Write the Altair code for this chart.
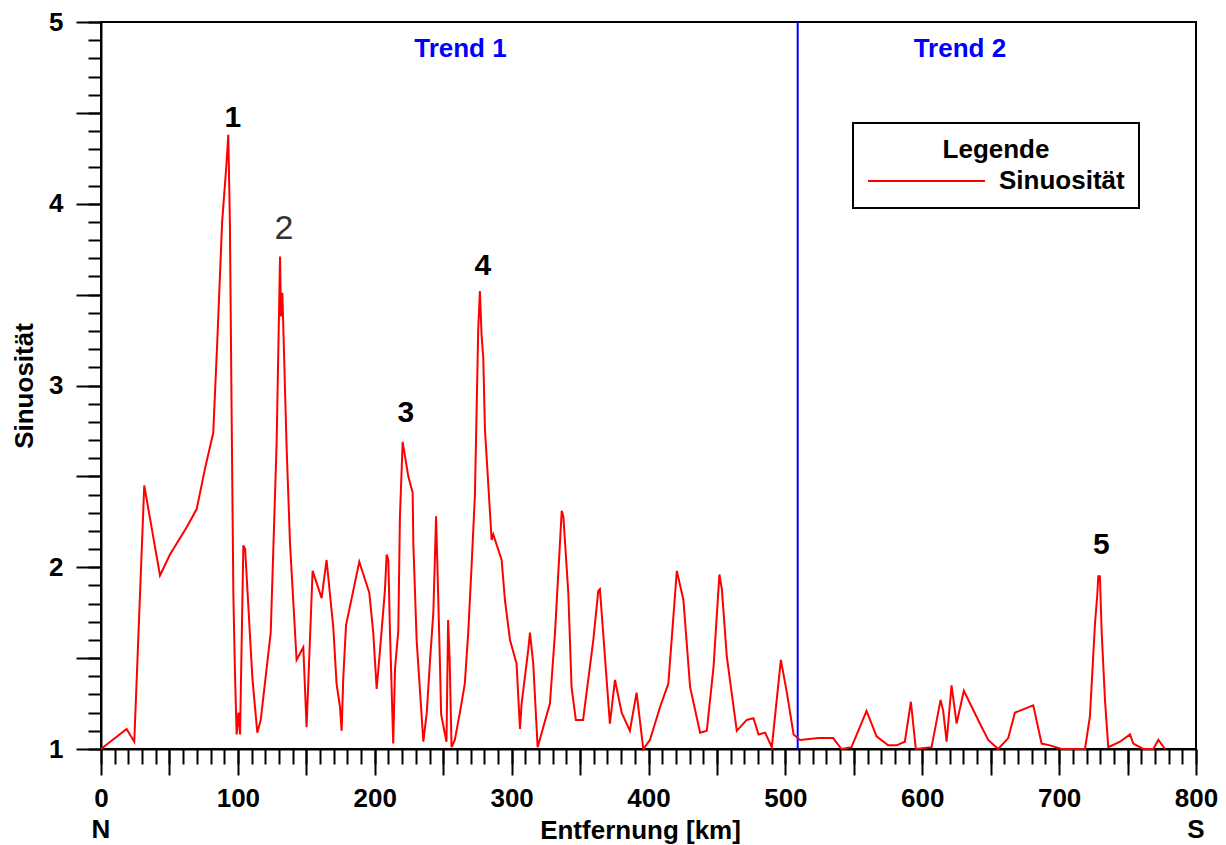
import altair as alt
import pandas as pd

# ---- data ----
km = [0, 18.7, 24.3, 31.6, 43.1, 50.4, 62.6, 69.9, 75.9, 82.0, 85.0, 88.5, 91.5, 93.0, 94.2, 95.4,
      96.7, 97.9, 99.1, 100.4, 101.6, 104.0, 105.3, 110.6, 114.2, 116.7, 124.0, 128.3, 130.8, 131.5,
      132.5, 135.6, 138.1, 142.9, 147.8, 150.2, 154.6, 161.2, 164.8, 167.3, 169.7, 172.1, 174.6,
      175.8, 177.0, 179.0, 188.7, 196.0, 198.9, 201.4, 203.8, 207.4, 208.7, 209.9, 211.1, 213.5,
      214.8, 217.2, 218.4, 220.4, 224.5, 227.7, 228.2, 230.6, 235.5, 238.0, 240.4, 242.8, 244.1,
      244.8, 245.8, 247.7, 248.5, 252.4, 253.6, 254.8, 256.1, 258.5, 262.2, 265.8, 268.3, 270.7,
      273.2, 275.6, 276.8, 278.1, 279.3, 280.5, 285.4, 286.6, 292.7, 295.1, 298.8, 303.6, 306.1,
      307.3, 312.2, 313.4, 315.8, 319.0, 323.1, 328.0, 331.7, 336.6, 337.8, 341.4, 343.8, 346.9,
      352.2, 359.7, 363.3, 364.5, 371.8, 375.5, 380.4, 386.4, 391.3, 396.2, 401.1, 408.4, 414.5,
      420.7, 425.5, 430.4, 437.7, 442.6, 447.5, 451.8, 453.6, 457.2, 464.5, 471.8, 476.7, 480.4,
      485.2, 490.1, 496.7, 501.1, 506.0, 510.8, 524.0, 534.9, 541.0, 548.3, 559.3, 566.6, 575.1,
      581.2, 587.3, 591.7, 595.3, 606.8, 613.4, 615.3, 617.8, 621.4, 625.1, 630.4, 642.1, 648.2,
      655.5, 662.8, 667.7, 681.1, 687.2, 693.3, 701.8, 718.9, 722.5, 726.2, 727.9, 728.6, 729.8,
      731.1, 733.5, 735.9, 744.5, 751.8, 754.2, 761.5, 768.8, 772.5, 777.4]
sinuosity = [1.00, 1.11, 1.04, 2.45, 1.955, 2.07, 2.22, 2.32, 2.54, 2.74, 3.25, 3.90, 4.20, 4.38, 3.88, 2.87,
             1.85, 1.41, 1.08, 1.20, 1.08, 2.12, 2.10, 1.39, 1.09, 1.16, 1.64, 2.68, 3.71, 3.38,
             3.51, 2.66, 2.13, 1.49, 1.56, 1.12, 1.98, 1.83, 2.04, 1.85, 1.67, 1.36, 1.23,
             1.10, 1.39, 1.68, 2.03, 1.86, 1.64, 1.33, 1.54, 1.87, 2.07, 2.04, 1.65, 1.03,
             1.44, 1.65, 2.28, 2.69, 2.50, 2.41, 2.13, 1.60, 1.04, 1.20, 1.49, 1.75, 2.09,
             2.28, 2.00, 1.45, 1.19, 1.04, 1.71, 1.47, 1.01, 1.05, 1.20, 1.36, 1.64, 2.00,
             2.40, 3.31, 3.52, 3.27, 3.15, 2.76, 2.15, 2.18, 2.04, 1.82, 1.60, 1.47, 1.11,
             1.25, 1.55, 1.64, 1.47, 1.01, 1.12, 1.25, 1.64, 2.31, 2.28, 1.86, 1.34, 1.16,
             1.16, 1.60, 1.87, 1.88, 1.14, 1.38, 1.20, 1.10, 1.31, 1.00, 1.05, 1.23, 1.36,
             1.98, 1.82, 1.34, 1.09, 1.10, 1.45, 1.96, 1.88, 1.51, 1.10, 1.16, 1.17, 1.08,
             1.09, 1.01, 1.49, 1.31, 1.08, 1.05, 1.06, 1.06, 1.00, 1.01, 1.21, 1.07, 1.02,
             1.02, 1.04, 1.26, 1.00, 1.01, 1.27, 1.21, 1.04, 1.35, 1.14, 1.32, 1.14, 1.05,
             1.00, 1.06, 1.20, 1.24, 1.03, 1.02, 1.00, 1.00, 1.18, 1.69, 1.85, 1.95, 1.95,
             1.64, 1.27, 1.01, 1.04, 1.08, 1.03, 1.00, 1.00, 1.05, 1.00]
series_name = "Sinuosität"

peak_labels = ["1", "3", "4", "5"]
peak_km = [96.4, 222.8, 279.0, 730.8]
peak_val = [4.47, 2.85, 3.66, 2.12]

thin_labels = ["2"]
thin_km = [133.7]
thin_val = [3.86]

trend_labels = ["Trend 1", "Trend 2"]
trend_km = [262.6, 627.5]
trend_val = [4.85, 4.85]

boundary_km = [509]

end_labels = ["N", "S"]
end_km = [0, 800]

x_major = list(range(0, 801, 50))
x_minor = list(range(0, 801, 10))
y_major = [1, 1.5, 2, 2.5, 3, 3.5, 4, 4.5, 5]
y_minor = [round(1 + i * 0.1, 1) for i in range(41)]

FONT = "Liberation Sans"

df = pd.DataFrame({"km": km, "sinuosity": sinuosity, "series": series_name})
peaks = pd.DataFrame({"km": peak_km, "val": peak_val, "txt": peak_labels})
thin = pd.DataFrame({"km": thin_km, "val": thin_val, "txt": thin_labels})
trends = pd.DataFrame({"km": trend_km, "val": trend_val, "txt": trend_labels})
bound = pd.DataFrame({"km": boundary_km})
ends = pd.DataFrame({"km": end_km, "txt": end_labels})

xs = alt.Scale(domain=[0, 800], nice=False, zero=False)
ys = alt.Scale(domain=[1, 5], nice=False, zero=False)

x_main_axis = alt.Axis(
    values=x_major, tickSize=26, tickWidth=2, tickColor="black",
    domainWidth=2, domainColor="black", grid=False, orient="bottom",
    labelExpr="datum.value % 100 == 0 ? format(datum.value, 'd') : ''",
    labelFontSize=26, labelFontWeight="bold", labelFont=FONT, labelColor="black",
    labelPadding=10, labelFlush=False, labelOverlap=False,
    title="Entfernung [km]", titleFontSize=26, titleFontWeight="bold", titleFont=FONT,
    titleColor="black", titleX=539, titleY=81, titleBaseline="middle",
)
y_main_axis = alt.Axis(
    values=y_major, tickSize=25, tickWidth=2, tickColor="black",
    domainWidth=2, domainColor="black", grid=False, orient="left",
    labelExpr="datum.value % 1 == 0 ? format(datum.value, 'd') : ''",
    labelFontSize=26, labelFontWeight="bold", labelFont=FONT, labelColor="black",
    labelPadding=13, labelOverlap=False, labelBaseline="middle",
    title="Sinuosität", titleFontSize=26, titleFontWeight="bold", titleFont=FONT,
    titleColor="black", titleX=-77, titleY=363.5, titleBaseline="middle", titleAlign="center",
)

line = alt.Chart(df).mark_line(strokeWidth=2).encode(
    x=alt.X("km:Q", scale=xs, axis=x_main_axis),
    y=alt.Y("sinuosity:Q", scale=ys, axis=y_main_axis),
    color=alt.Color(
        "series:N",
        scale=alt.Scale(domain=[series_name], range=["#ff0000"]),
        legend=alt.Legend(
            title="Legende", orient="none", legendX=752, legendY=101,
            symbolType="stroke", symbolSize=13689, symbolStrokeWidth=2,
            labelFontSize=26, labelFontWeight="bold", labelFont=FONT, labelColor="black",
            titleFontSize=26, titleFontWeight="bold", titleFont=FONT, titleColor="black",
            titleAnchor="middle", titleAlign="center", titlePadding=5,
            padding=14, labelOffset=13, clipHeight=26, strokeColor="black",
        ),
    ),
)

minor = alt.Chart(df).mark_point(opacity=0).encode(
    x=alt.X("km:Q", scale=xs, axis=alt.Axis(
        values=x_minor, tickSize=15, tickWidth=2, tickColor="black", labels=False,
        domain=False, grid=False, title="", orient="bottom")),
    y=alt.Y("sinuosity:Q", scale=ys, axis=alt.Axis(
        values=y_minor, tickSize=13, tickWidth=2, tickColor="black", labels=False,
        domain=False, grid=False, title="", orient="left")),
)

rule = alt.Chart(bound).mark_rule(color="#0000ff", strokeWidth=2).encode(
    x=alt.X("km:Q", scale=xs, axis=None),
)

peak_text = alt.Chart(peaks).mark_text(
    font=FONT, fontSize=30, fontWeight="bold", color="black", baseline="middle", align="center"
).encode(
    x=alt.X("km:Q", scale=xs, axis=None),
    y=alt.Y("val:Q", scale=ys, axis=None),
    text="txt:N",
)

thin_text = alt.Chart(thin).mark_text(
    font=FONT, fontSize=34, fontWeight="normal", color="#333333", baseline="middle", align="center"
).encode(
    x=alt.X("km:Q", scale=xs, axis=None),
    y=alt.Y("val:Q", scale=ys, axis=None),
    text="txt:N",
)

trend_text = alt.Chart(trends).mark_text(
    font=FONT, fontSize=26, fontWeight="bold", color="#0000ff", baseline="middle", align="center"
).encode(
    x=alt.X("km:Q", scale=xs, axis=None),
    y=alt.Y("val:Q", scale=ys, axis=None),
    text="txt:N",
)

end_text = alt.Chart(ends).mark_text(
    font=FONT, fontSize=26, fontWeight="bold", color="black", baseline="middle", align="center"
).encode(
    x=alt.X("km:Q", scale=xs, axis=None),
    y=alt.value(808),
    text="txt:N",
)

chart = alt.layer(rule, line, peak_text, thin_text, trend_text, end_text, minor).resolve_axis(
    x="independent", y="independent"
).properties(
    width=1095, height=727,
    autosize=alt.AutoSizeParams(type="none"),
    padding={"left": 101, "top": 22, "right": 30, "bottom": 96},
    background="white",
).configure(font=FONT).configure_view(
    stroke="black", strokeWidth=2
).configure_legend(strokeWidth=2)

chart.save("out.html", embed_options={"renderer": "svg", "actions": False})
